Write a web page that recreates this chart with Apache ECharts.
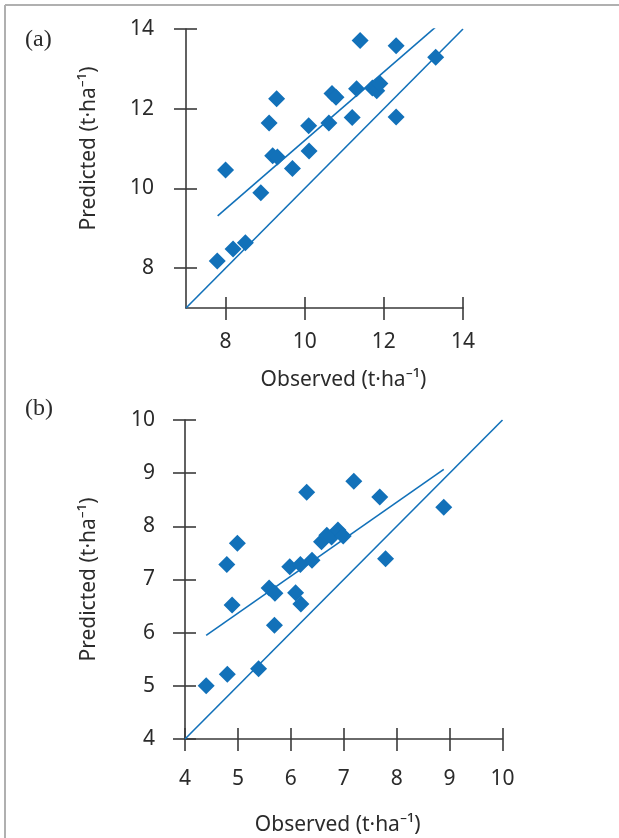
<!DOCTYPE html>
<html>
<head>
<meta charset="utf-8">
<script src="https://cdn.jsdelivr.net/npm/echarts@6/dist/echarts.min.js"></script>
<style>html,body{margin:0;padding:0;background:#fff}#c{width:619px;height:838px}</style>
</head>
<body>
<div id="c"></div>
<script>
// Panel (a)
const obsA  = [12.6, 11.4, 12.31, 13.31, 9.29, 10.69, 10.79, 11.31, 11.71, 11.82, 11.9, 9.1, 10.1, 10.61, 11.2, 12.31, 9.19, 9.31, 10.11, 8.0, 9.69, 8.89, 7.79, 8.19, 8.5];
const predA = [14.03, 13.71, 13.58, 13.29, 12.25, 12.38, 12.29, 12.5, 12.52, 12.45, 12.63, 11.64, 11.57, 11.64, 11.78, 11.79, 10.82, 10.79, 10.94, 10.46, 10.5, 9.89, 8.18, 8.48, 8.64];
const fitA_x = [7.8, 13.31];
const fitA_y = [9.31, 14.05];
const oneA = [7, 14];
const ticksA = [8, 10, 12, 14];

// Panel (b)
const obsB  = [7.19, 6.3, 7.68, 8.89, 4.99, 4.79, 6.58, 6.68, 6.77, 6.89, 6.99, 5.98, 6.18, 6.4, 7.79, 5.59, 5.7, 6.09, 6.19, 4.89, 5.69, 4.4, 4.8, 5.39];
const predB = [8.85, 8.64, 8.55, 8.36, 7.68, 7.28, 7.71, 7.83, 7.8, 7.93, 7.82, 7.24, 7.28, 7.36, 7.39, 6.84, 6.74, 6.75, 6.54, 6.52, 6.14, 5.0, 5.22, 5.32];
const fitB_x = [4.4, 8.89];
const fitB_y = [5.95, 9.07];
const oneB = [4, 10];
const ticksB = [4, 5, 6, 7, 8, 9, 10];

const xTitle = 'Observed (t·ha⁻¹)';
const yTitle = 'Predicted (t·ha⁻¹)';

const BLUE = '#1271b9';
const AX = '#3a3a3a';
const TXT = '#2b2b2b';
const FONT = 'Noto Sans';
const FS = 21;

function pairs(xs, ys){ return xs.map((v,i)=>[v, ys[i]]); }

function mainAxis(gi, min, max, ticks, isX, labelMargin, name, nameGap, namePad){
  return {
    type:'value', gridIndex:gi, min:min, max:max, interval:1,
    position: isX ? 'bottom' : 'left',
    splitLine:{show:false},
    axisLine:{show:true, onZero:false, lineStyle:{color:AX, width:1.6}},
    axisTick:{show:true, inside:false, length:12, customValues:ticks, lineStyle:{color:AX, width:1.6}},
    axisLabel:{show:true, customValues:ticks, margin:labelMargin, color:TXT, fontFamily:FONT, fontSize:FS},
    name:name, nameLocation:'middle', nameGap:nameGap,
    nameTextStyle:{color:TXT, fontFamily:FONT, fontSize:FS, padding:namePad}
  };
}
function auxAxis(gi, min, max, ticks, isX){
  return {
    type:'value', gridIndex:gi, min:min, max:max, interval:1,
    position: isX ? 'bottom' : 'left', offset:0,
    splitLine:{show:false},
    axisLine:{show:false, onZero:false},
    axisTick:{show:true, inside:true, length:11, customValues:ticks, lineStyle:{color:AX, width:1.6}},
    axisLabel:{show:false}
  };
}

const chart = echarts.init(document.getElementById('c'), null, {renderer:'canvas'});
chart.setOption({
  animation:false,
  backgroundColor:'#fff',
  grid:[
    {left:186, top:29, width:277, height:279},
    {left:185, top:420, width:317.5, height:319}
  ],
  xAxis:[
    mainAxis(0, 7, 14, ticksA, true, 24, xTitle, 62, [0,0,0,38]),
    auxAxis(0, 7, 14, ticksA, true),
    mainAxis(1, 4, 10, ticksB, true, 30, xTitle, 76, [0,12,0,0]),
    auxAxis(1, 4, 10, ticksB, true)
  ],
  yAxis:[
    mainAxis(0, 7, 14, ticksA, false, 32, yTitle, 86, [0,0,0,40]),
    auxAxis(0, 7, 14, ticksA, false),
    mainAxis(1, 4, 10, ticksB, false, 30, yTitle, 85, [0,0,0,0]),
    auxAxis(1, 4, 10, ticksB, false)
  ],
  graphic:[
    {type:'line', shape:{x1:5, y1:5, x2:619, y2:5}, style:{stroke:'#b0b0b0', lineWidth:2}},
    {type:'line', shape:{x1:5, y1:5, x2:5, y2:838}, style:{stroke:'#b0b0b0', lineWidth:2}},
    {type:'text', left:25, top:28, style:{text:'(a)', font:'24px "Liberation Serif"', fill:TXT}},
    {type:'text', left:25, top:397, style:{text:'(b)', font:'24px "Liberation Serif"', fill:TXT}}
  ],
  series:[
    {type:'line', xAxisIndex:0, yAxisIndex:0, data:pairs(oneA, oneA), symbol:'none', lineStyle:{color:BLUE, width:1.6}, z:2},
    {type:'line', xAxisIndex:0, yAxisIndex:0, data:pairs(fitA_x, fitA_y), symbol:'none', lineStyle:{color:BLUE, width:1.6}, z:2},
    {type:'scatter', xAxisIndex:0, yAxisIndex:0, data:pairs(obsA, predA), symbol:'diamond', symbolSize:17, itemStyle:{color:BLUE, opacity:1}, z:3},
    {type:'line', xAxisIndex:2, yAxisIndex:2, data:pairs(oneB, oneB), symbol:'none', lineStyle:{color:BLUE, width:1.6}, z:2},
    {type:'line', xAxisIndex:2, yAxisIndex:2, data:pairs(fitB_x, fitB_y), symbol:'none', lineStyle:{color:BLUE, width:1.6}, z:2},
    {type:'scatter', xAxisIndex:2, yAxisIndex:2, data:pairs(obsB, predB), symbol:'diamond', symbolSize:17, itemStyle:{color:BLUE, opacity:1}, z:3}
  ]
});
</script>
</body>
</html>
